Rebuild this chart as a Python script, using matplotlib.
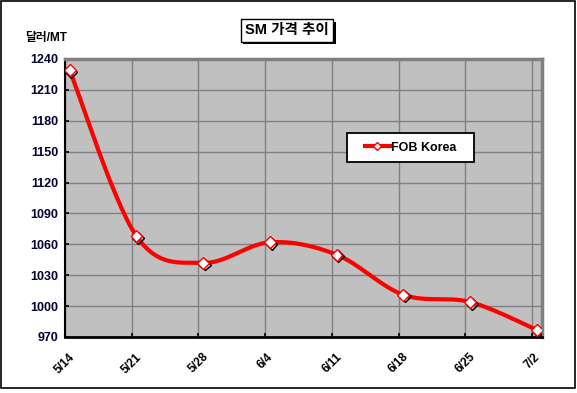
import numpy as np
import matplotlib.pyplot as plt
import matplotlib.patheffects as pe
from matplotlib.patches import Rectangle

plt.rcParams['font.family'] = ['Liberation Sans', 'Noto Sans CJK KR', 'DejaVu Sans']

# 데이터
dates = ['5/14', '5/21', '5/28', '6/4', '6/11', '6/18', '6/25', '7/2']
fob_korea = [1229, 1068, 1042, 1062, 1050, 1011, 1004, 977]
yticks = list(range(970, 1241, 30))


def smooth_line(x, y, n=30):
    # 엑셀식 부드러운 선 (catmull-rom -> bezier)
    x = np.asarray(x, float)
    y = np.asarray(y, float)
    px = np.concatenate([[x[0]], x, [x[-1]]])
    py = np.concatenate([[y[0]], y, [y[-1]]])
    xs, ys = [], []
    t = np.linspace(0, 1, n)
    for i in range(1, len(px) - 2):
        p0 = np.array([px[i], py[i]])
        p3 = np.array([px[i + 1], py[i + 1]])
        p1 = p0 + (np.array([px[i + 1], py[i + 1]]) - np.array([px[i - 1], py[i - 1]])) / 6
        p2 = p3 - (np.array([px[i + 2], py[i + 2]]) - np.array([px[i], py[i]])) / 6
        b = ((1 - t) ** 3)[:, None] * p0 + (3 * (1 - t) ** 2 * t)[:, None] * p1 \
            + (3 * (1 - t) * t ** 2)[:, None] * p2 + (t ** 3)[:, None] * p3
        xs.extend(b[:, 0])
        ys.extend(b[:, 1])
    return np.array(xs), np.array(ys)


fig = plt.figure(figsize=(5.77, 3.93), dpi=100)
ax = fig.add_axes([0.1127, 0.1425, 0.8267, 0.7074])
ax.set_facecolor('#C0C0C0')

idx = np.arange(len(dates))
xpos = idx + 0.07

sx, sy = smooth_line(xpos, fob_korea)
ax.plot(sx, sy, color='#FF0000', lw=3, solid_capstyle='round', zorder=3)
ax.plot(xpos, fob_korea, linestyle='none', marker='D', markersize=6,
        markerfacecolor='white', markeredgecolor='#FF0000', markeredgewidth=1,
        zorder=4,
        path_effects=[pe.SimpleLineShadow(offset=(1.2, -1.2), shadow_color='black', alpha=1),
                      pe.Normal()])
# 범례용
ax.plot([], [], color='#FF0000', lw=3, marker='D', markersize=4.5,
        markerfacecolor='white', markeredgecolor='#FF0000', label='FOB Korea')

ax.set_xlim(0, 7.15)
ax.set_ylim(970, 1240)
ax.set_xticks(idx)
ax.set_xticklabels(dates, rotation=45, ha='center', fontsize=8.5, fontweight='bold')
ax.set_yticks(yticks)
ax.set_yticklabels([str(v) for v in yticks], fontsize=9, fontweight='bold', color='#000033')
ax.tick_params(axis='both', direction='in', length=3, width=1.2, color='black')
ax.tick_params(axis='x', pad=10)
ax.tick_params(axis='y', pad=5)

ax.grid(True, color='#808080', lw=1)
ax.set_axisbelow(True)

ax.spines['left'].set_color('black')
ax.spines['left'].set_linewidth(1.5)
ax.spines['bottom'].set_color('black')
ax.spines['bottom'].set_linewidth(2)
ax.spines['top'].set_color('#808080')
ax.spines['top'].set_linewidth(2.5)
ax.spines['right'].set_color('#808080')
ax.spines['right'].set_linewidth(2.5)

# 범례 상자
ax.add_patch(Rectangle((0.591, 0.629), 0.266, 0.105, transform=ax.transAxes,
                       facecolor='white', edgecolor='black', lw=1.3, zorder=5))
leg = ax.legend(loc='center', bbox_to_anchor=(0.724, 0.681), fontsize=9,
                frameon=False, handlelength=2.0, handletextpad=0.1,
                borderpad=0.3, borderaxespad=0)
leg.set_zorder(6)
for t in leg.get_texts():
    t.set_fontweight('bold')

# 제목
title = fig.text(0.497, 0.923, 'SM 가격 추이', ha='center', va='center', fontsize=10.5,
                 fontweight='bold', color='black',
                 bbox=dict(boxstyle='square,pad=0.3', facecolor='white', edgecolor='black', lw=1))
title.get_bbox_patch().set_path_effects(
    [pe.SimplePatchShadow(offset=(2, -2), shadow_rgbFace='black', alpha=1), pe.Normal()])

fig.text(0.044, 0.903, '달러/MT', ha='left', va='center', fontsize=8.5, fontweight='bold')

# 바깥 테두리
fig.patches.append(Rectangle((0.002, 0.012), 0.995, 0.985, transform=fig.transFigure,
                             fill=False, edgecolor='black', lw=1.2))

fig.savefig('out.png', dpi=100)
